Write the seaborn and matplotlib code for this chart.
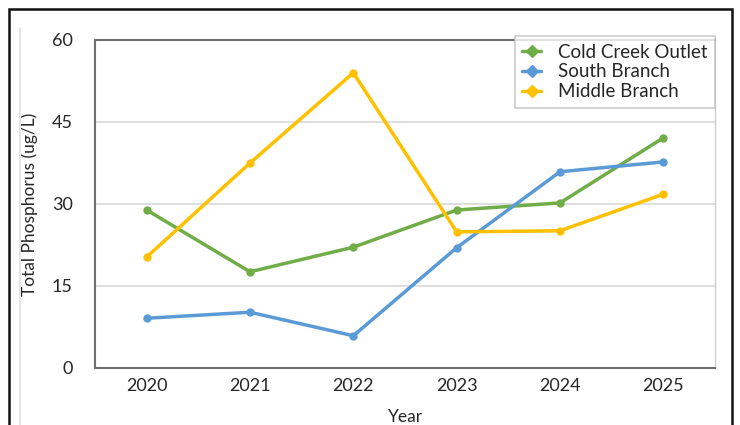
import pandas as pd
import seaborn as sns
import matplotlib.pyplot as plt
from matplotlib.lines import Line2D
from matplotlib.patches import Rectangle

# data
years = [2020, 2021, 2022, 2023, 2024, 2025]
cold_creek_outlet = [28.9, 17.6, 22.1, 28.9, 30.2, 42.1]
south_branch = [9.1, 10.2, 5.9, 22.0, 35.9, 37.7]
middle_branch = [20.3, 37.5, 54.0, 24.9, 25.1, 31.8]

series_names = ['Cold Creek Outlet', 'South Branch', 'Middle Branch']
series_colors = ['#70AD47', '#5B9BD5', '#FFC000']
y_ticks = [0, 15, 30, 45, 60]


def main() -> None:
    df = pd.DataFrame({
        'Year': years * 3,
        'Value': cold_creek_outlet + south_branch + middle_branch,
        'Site': [n for n in series_names for _ in years],
    })

    sns.set_style('white')
    plt.rcParams['font.family'] = ['Lato', 'DejaVu Sans']

    fig = plt.figure(figsize=(7.4, 4.25), dpi=100)
    ax = fig.add_axes([95 / 740, 57 / 425, 620 / 740, 328 / 425])

    sns.lineplot(data=df, x='Year', y='Value', hue='Site', palette=series_colors,
                 marker='o', markersize=6, markeredgewidth=0, linewidth=2.5,
                 legend=False, ax=ax)

    ax.set_xlim(2019.5, 2025.5)
    ax.set_ylim(0, 60)
    ax.set_xticks(years)
    ax.set_yticks(y_ticks)
    ax.tick_params(axis='both', length=0, labelsize=13, labelcolor='#262626')
    ax.tick_params(axis='x', pad=7)
    ax.tick_params(axis='y', pad=16)
    ax.grid(axis='y', color='#d9d9d9', linewidth=1.2)
    ax.set_axisbelow(True)

    for side in ['left', 'top', 'bottom']:
        ax.spines[side].set_color('#6e6e6e')
        ax.spines[side].set_linewidth(1.5)
    ax.spines['right'].set_color('#cfcfcf')
    ax.spines['right'].set_linewidth(1.0)

    ax.set_ylabel('Total Phosphorus (ug/L)', fontsize=12.5, color='#262626')
    ax.yaxis.set_label_coords(-0.092, 0.5)
    ax.set_xlabel('Year', fontsize=12.5, color='#262626')
    ax.xaxis.set_label_coords(0.5, -0.125)

    handles = [Line2D([0], [0], color=c, marker='D', markersize=6, linewidth=2.5)
               for c in series_colors]
    leg = ax.legend(handles, series_names, loc='upper right', bbox_to_anchor=(1.0, 1.012),
                    frameon=True, fancybox=False, fontsize=13.5, handlelength=1.0,
                    handletextpad=0.9, borderpad=0.4, labelspacing=0.15,
                    borderaxespad=0)
    leg.get_frame().set_edgecolor('#bfbfbf')
    leg.get_frame().set_linewidth(1.2)
    for t in leg.get_texts():
        t.set_color('#262626')

    # outer frame of the screenshot
    fig.add_artist(Rectangle((9 / 740, -0.1), 723 / 740, 416 / 425 + 0.1,
                             transform=fig.transFigure, fill=False,
                             edgecolor='#111111', linewidth=1.8, clip_on=False))
    fig.add_artist(Line2D([20 / 740, 20 / 740], [0, 1 - 28 / 425],
                          transform=fig.transFigure, color='#e0e0e0', linewidth=1.2))

    fig.savefig('out.png', dpi=100)


if __name__ == '__main__':
    main()
